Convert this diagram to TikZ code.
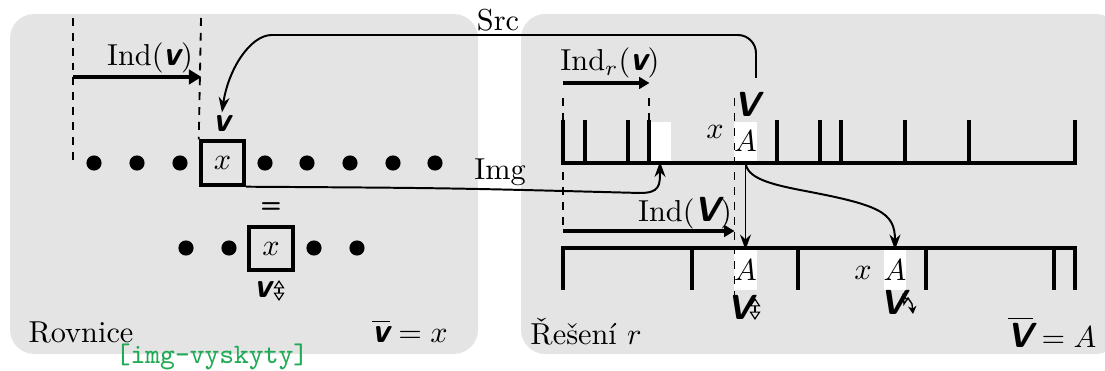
\documentclass[tikz,border=0pt]{standalone}
\usetikzlibrary{arrows.meta}
\definecolor{panel}{HTML}{E4E4E4}
\definecolor{tagc}{HTML}{1FAA55}
\newcommand{\bV}{{\fontsize{11.5}{13}\selectfont\sffamily\bfseries\slshape V}}
\newcommand{\bv}{{\fontsize{11.5}{13}\selectfont\sffamily\bfseries\slshape v}}
\tikzset{
  dashline/.style={line width=0.6pt, dash pattern=on 2.6pt off 2.3pt},
  indarrow/.style={line width=1.1pt, -{Triangle[length=4.2pt,width=4.8pt]}},
  smallind/.style={line width=1pt, -{Triangle[length=3.4pt,width=3.8pt]}},
  thinarrow/.style={line width=0.65pt, -{Stealth[length=5pt,width=3.6pt]}},
  cell/.style={draw, line width=1.35pt, minimum size=14.3pt, inner sep=0pt},
  dotnode/.style={circle, fill=black, minimum size=5pt, inner sep=0pt},
  abox/.style={fill=white, minimum width=7pt, minimum height=13pt, inner sep=0pt},
  bar/.style={line width=1.4pt},
  lbl/.style={inner sep=1pt},
  updown/.style={line width=0.4pt, {Triangle[open,length=2.8pt,width=3.6pt]}-{Triangle[open,length=2.8pt,width=3.6pt]}}
}
\begin{document}
\begin{tikzpicture}[x=0.33pt,y=-0.33pt,font=\fontsize{10}{12}\selectfont]
\useasboundingbox (0,0) rectangle (1105,371);
% panels
\fill[panel, rounded corners=8pt] (10,14) rectangle (478,354);
\fill[panel, rounded corners=8pt] (521,14) rectangle (1120,354);

% ---------- left panel ----------
\node[cell] (lx) at (222.5,163) {$x$};
\foreach \xx/\nm in {94/d1,137/d2,180/d3,265/d4,307/d5,350/d6,393/d7,435/d8}
  \node[dotnode] (\nm) at (\xx,163) {};
\node[lbl] (lv) at (222,124) {\bv};
\draw[dashline] (73,18) -- (73,163);
\draw[dashline] (201,18) -- (lx.north west);
\node[lbl] (lind) at (150,58) {Ind(\bv)};
\coordinate (la) at (73,77);
\coordinate (lb) at (201.5,77);
\draw[indarrow] (la) -- (lb);

\node[font=\fontsize{8}{9}\selectfont\sffamily\bfseries] (leq) at (271,208) {=};
\node[cell] (lx2) at (271,248.5) {$x$};
\foreach \xx/\nm in {186/e1,229/e2,314/e3,357/e4}
  \node[dotnode] (\nm) at (\xx,248) {};
\node[lbl] (lv2) at (263,290) {\bv};
\draw[updown] (279,280) -- (279,301);

\node[lbl] (rov) at (81,332) {Rovnice};
\node[lbl] (leqn) at (410,331) {$\overline{\mbox{\bv}} = x$};
\node[lbl, text=tagc, font=\fontsize{9.3}{11}\selectfont\ttfamily] (tag) at (212,357) {[img-vyskyty]};

% ---------- right panel ----------
\node[abox] (gap) at (660,141.5) {};
\node[abox] (ua) at (745.5,141.5) {$A$};
\node[abox] (la1) at (745.5,270) {$A$};
\node[abox] (la2) at (895,270) {$A$};

% upper bar
\draw[bar] (563,120) -- (563,163) -- (1075,163) -- (1075,120);
\foreach \xx in {585,628,649,777,820,841,905,969}
  \draw[bar] (\xx,120) -- (\xx,163);
% lower bar
\draw[bar] (563,290) -- (563,248) -- (1075,248) -- (1075,290);
\foreach \xx in {692,798,926,1054}
  \draw[bar] (\xx,248) -- (\xx,290);

% dashed guides
\draw[dashline] (563,98) -- (563,231);
\draw[dashline] (649,98) -- (649,120);
\draw[dashline] (734.5,98) -- (734.5,298);

\node[lbl] (rind) at (610,63) {Ind$_r$(\bv)};
\coordinate (ra) at (563,83);
\coordinate (rb) at (649.5,83);
\draw[smallind] (ra) -- (rb);

\node[lbl] (rind2) at (685,213) {Ind(\bV)};
\coordinate (rc) at (563,231);
\coordinate (rd) at (734.5,231);
\draw[smallind] (rc) -- (rd);

\node[lbl] (uv) at (747,104) {\bV};
\node[lbl] (ux) at (715,132) {$x$};
\node[lbl] (lxx) at (863,273) {$x$};
\node[lbl] (lv3) at (740,307) {\bV};
\draw[updown] (755,298) -- (755,320);
\node[lbl] (lv4) at (893,302) {\bV};
\draw[line width=0.45pt, {Stealth[length=2.6pt,width=2.8pt]}-{Stealth[length=2.6pt,width=2.8pt]}] (903,293) -- (904,304) -- (908,298) -- (912,304) -- (913,314);

\node[lbl] (res) at (586,332) {Řešení $r$};
\node[lbl] (reqn) at (1052,332) {$\overline{\mbox{\bV}} = A$};

% connectors
\coordinate (srcs) at (756,78);
\draw[thinarrow, rounded corners=6pt] (srcs) -- (756,35) -- (290,35) .. controls (250,35) and (228,70) .. (lv.north);
\node[lbl] (src) at (498,20) {Src};

\draw[thinarrow] (lx.south east) .. controls (450,188) .. (640,193) .. controls (660,193) and (660,185) .. (gap.south);
\node[lbl] (img) at (500,172) {Img};

\draw[thinarrow] (ua.south) -- (la1.north);
\draw[thinarrow] (ua.south) .. controls (746,178) and (770,184) .. (800,190) .. controls (880,205) and (895,212) .. (la2.north);
\end{tikzpicture}
\end{document}
